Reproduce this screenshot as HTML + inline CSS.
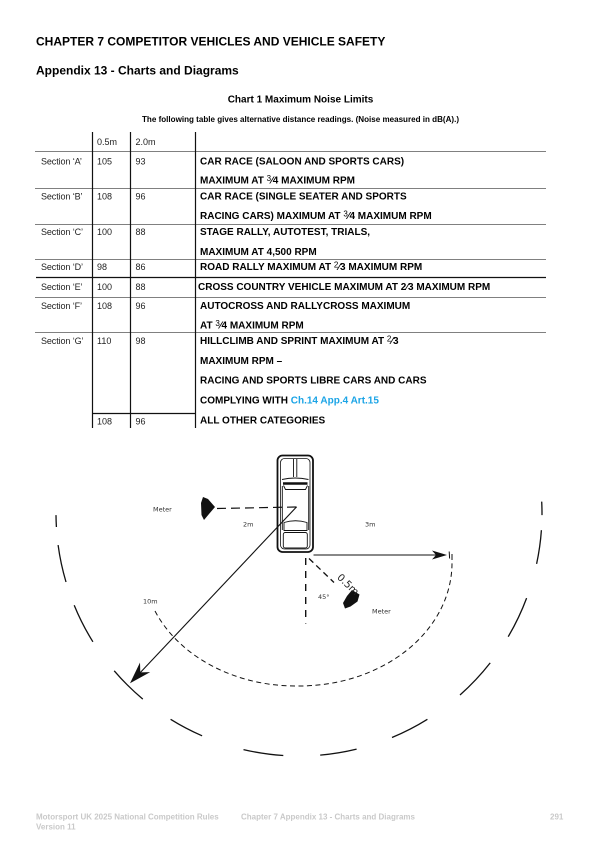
<!DOCTYPE html>
<html>
<head>
<meta charset="utf-8">
<style>
  html,body{margin:0;padding:0;background:#fff;}
  body{width:600px;height:849px;overflow:hidden;}
  svg{display:block;}
  .h{font-family:"Liberation Sans",Arial,sans-serif;font-weight:bold;fill:#000;}
  .b{font-family:"Liberation Sans",Arial,sans-serif;font-weight:bold;font-size:10px;fill:#000;}
  .r{font-family:"Liberation Sans",Arial,sans-serif;font-size:9px;fill:#222;}
  .f{font-family:"Liberation Sans",Arial,sans-serif;font-weight:bold;font-size:8px;fill:#c9c9c9;}
  .d{font-family:"DejaVu Sans","Liberation Sans",sans-serif;font-size:6.5px;fill:#333;}
  .fr{font-weight:normal;font-size:8px;}
</style>
</head>
<body>
<svg width="600" height="849" viewBox="0 0 600 849" xmlns="http://www.w3.org/2000/svg">
  <rect width="600" height="849" fill="#fff"/>

  <!-- Headings -->
  <text class="h" x="36" y="45.3" font-size="12">CHAPTER 7 COMPETITOR VEHICLES AND VEHICLE SAFETY</text>
  <text class="h" x="36" y="74.3" font-size="12">Appendix 13 - Charts and Diagrams</text>
  <text class="h" x="300.5" y="102.6" font-size="10" text-anchor="middle">Chart 1 Maximum Noise Limits</text>
  <text class="h" x="142" y="122" font-size="8" textLength="317" lengthAdjust="spacingAndGlyphs">The following table gives alternative distance readings. (Noise measured in dB(A).)</text>

  <!-- Table lines -->
  <g stroke="#808080" stroke-width="1">
    <line x1="35" y1="151.5" x2="546" y2="151.5"/>
    <line x1="35" y1="188.5" x2="546" y2="188.5"/>
    <line x1="35" y1="224.5" x2="546" y2="224.5"/>
    <line x1="35" y1="259.5" x2="546" y2="259.5"/>
    <line x1="35" y1="297.5" x2="546" y2="297.5"/>
    <line x1="35" y1="332.5" x2="546" y2="332.5"/>
  </g>
  <line x1="36" y1="277.5" x2="546" y2="277.5" stroke="#111" stroke-width="1.2"/>
  <g stroke="#111" stroke-width="1.2">
    <line x1="92.5" y1="132" x2="92.5" y2="428"/>
    <line x1="130.5" y1="132" x2="130.5" y2="428"/>
    <line x1="195.5" y1="132" x2="195.5" y2="428"/>
    <line x1="92.5" y1="413.5" x2="195.5" y2="413.5"/>
  </g>

  <!-- Header -->
  <text class="r" x="97" y="145">0.5m</text>
  <text class="r" x="135.5" y="145">2.0m</text>

  <!-- Section labels & values -->
  <text class="r" x="41" y="164.5" letter-spacing="-0.1">Section ‘A’</text>
  <text class="r" x="97" y="164.5">105</text><text class="r" x="135.5" y="164.5">93</text>

  <text class="r" x="41" y="199.5" letter-spacing="-0.1">Section ‘B’</text>
  <text class="r" x="97" y="199.5">108</text><text class="r" x="135.5" y="199.5">96</text>

  <text class="r" x="41" y="235" letter-spacing="-0.1">Section ‘C’</text>
  <text class="r" x="97" y="235">100</text><text class="r" x="135.5" y="235">88</text>

  <text class="r" x="41" y="270" letter-spacing="-0.1">Section ‘D’</text>
  <text class="r" x="97" y="270">98</text><text class="r" x="135.5" y="270">86</text>

  <text class="r" x="41" y="290" letter-spacing="-0.1">Section ‘E’</text>
  <text class="r" x="97" y="290">100</text><text class="r" x="135.5" y="290">88</text>

  <text class="r" x="41" y="309" letter-spacing="-0.1">Section ‘F’</text>
  <text class="r" x="97" y="309">108</text><text class="r" x="135.5" y="309">96</text>

  <text class="r" x="41" y="344" letter-spacing="-0.1">Section ‘G’</text>
  <text class="r" x="97" y="344">110</text><text class="r" x="135.5" y="344">98</text>

  <text class="r" x="97" y="424.5">108</text><text class="r" x="135.5" y="424.5">96</text>

  <!-- Descriptions -->
  <text class="b" x="200" y="164.5">CAR RACE (SALOON AND SPORTS CARS)</text>
  <text class="b" x="200" y="183.5">MAXIMUM AT <tspan class="fr" dy="-2.5">3</tspan><tspan dy="2.5">⁄4</tspan> MAXIMUM RPM</text>

  <text class="b" x="200" y="199.5">CAR RACE (SINGLE SEATER AND SPORTS</text>
  <text class="b" x="200" y="219">RACING CARS) MAXIMUM AT <tspan class="fr" dy="-2.5">3</tspan><tspan dy="2.5">⁄4</tspan> MAXIMUM RPM</text>

  <text class="b" x="200" y="235">STAGE RALLY, AUTOTEST, TRIALS,</text>
  <text class="b" x="200" y="255">MAXIMUM AT 4,500 RPM</text>

  <text class="b" x="200" y="270">ROAD RALLY MAXIMUM AT <tspan class="fr" dy="-2.5">2</tspan><tspan dy="2.5">⁄3</tspan> MAXIMUM RPM</text>

  <text class="b" x="198" y="290">CROSS COUNTRY VEHICLE MAXIMUM AT 2⁄3 MAXIMUM RPM</text>

  <text class="b" x="200" y="309">AUTOCROSS AND RALLYCROSS MAXIMUM</text>
  <text class="b" x="200" y="328.5">AT <tspan class="fr" dy="-2.5">3</tspan><tspan dy="2.5">⁄4</tspan> MAXIMUM RPM</text>

  <text class="b" x="200" y="344">HILLCLIMB AND SPRINT MAXIMUM AT <tspan class="fr" dy="-2.5">2</tspan><tspan dy="2.5">⁄3</tspan></text>
  <text class="b" x="200" y="364">MAXIMUM RPM –</text>
  <text class="b" x="200" y="383.5">RACING AND SPORTS LIBRE CARS AND CARS</text>
  <text class="b" x="200" y="403.5">COMPLYING WITH <tspan fill="#1ba4e6">Ch.14 App.4 Art.15</tspan></text>
  <text class="b" x="200" y="423.5">ALL OTHER CATEGORIES</text>

  <!-- ===== Diagram ===== -->
  <!-- Outer dashed circle (individual dashes) -->
  <g fill="none" stroke="#111" stroke-width="1.3">
    <path d="M56.0,515.1 A243,243 0 0 0 56.4,527.0"/>
    <path d="M58.1,545.1 A243,243 0 0 0 66.0,582.0"/>
    <path d="M74.2,605.2 A243,243 0 0 0 92.9,641.8"/>
    <path d="M114.2,670.8 A243,243 0 0 0 142.8,699.1"/>
    <path d="M170.6,719.3 A243,243 0 0 0 202.1,735.8"/>
    <path d="M243.5,749.6 A243,243 0 0 0 283.3,755.5"/>
    <path d="M320.2,755.1 A243,243 0 0 0 356.6,749.1"/>
    <path d="M392.0,737.5 A243,243 0 0 0 427.4,719.3"/>
    <path d="M460.0,695.0 A243,243 0 0 0 490.2,662.9"/>
    <path d="M508.2,636.7 A243,243 0 0 0 526.6,598.1"/>
    <path d="M536.6,563.9 A243,243 0 0 0 541.4,530.2"/>
    <path d="M542.0,515.1 A243,243 0 0 0 541.7,501.6"/>
  </g>

  <!-- Inner dashed arc -->
  <path d="M155,611 A153,123 0 0 0 299,686 A153,123 0 0 0 452,563" fill="none" stroke="#111" stroke-width="1" stroke-dasharray="5 3.5"/>

  <!-- Left meter & dashed line -->
  <polygon points="203,497 208,499 215,507 209,514 204,520 201.5,515 201,503" fill="#111"/>
  <line x1="217" y1="508.5" x2="296" y2="507" stroke="#111" stroke-width="1.2" stroke-dasharray="9 5"/>

  <!-- Long arrow to 10m -->
  <line x1="296.7" y1="506.7" x2="138" y2="675" stroke="#111" stroke-width="1.1"/>
  <polygon points="130,683.3 150.2,672.1 140.3,672.4 140,662.5" fill="#111"/>

  <!-- Right arrow 3m -->
  <line x1="313.5" y1="555" x2="436" y2="555" stroke="#111" stroke-width="1.1"/>
  <polygon points="447,555 432,550.5 436,555 432,559.5" fill="#111"/>
  <line x1="449.2" y1="551.5" x2="449.6" y2="558.5" stroke="#111" stroke-width="1"/>
  <line x1="452" y1="554" x2="452" y2="560" stroke="#111" stroke-width="1"/>

  <!-- Vertical dashed line -->
  <line x1="305.7" y1="558" x2="305.7" y2="623.5" stroke="#111" stroke-width="1.4" stroke-dasharray="7 6"/>
  <!-- Diagonal dashed line -->
  <line x1="309" y1="558.5" x2="334" y2="582.5" stroke="#111" stroke-width="1.3" stroke-dasharray="6 4"/>

  <!-- Right meter -->
  <polygon points="352,590 359.5,594.5 357.5,601.5 350.5,606.5 345,608.5 343,603 347,596" fill="#111"/>

  <!-- Car -->
  <g fill="none" stroke="#111">
    <rect x="277.5" y="455.5" width="35.5" height="96.5" rx="5" stroke-width="1.8"/>
    <rect x="280.5" y="458.5" width="29.5" height="90.5" rx="4" stroke-width="0.8"/>
    <line x1="293.5" y1="459" x2="293.5" y2="477" stroke-width="0.9"/>
    <line x1="296.8" y1="459" x2="296.8" y2="477" stroke-width="0.9"/>
    <path d="M282,479.5 Q295,476.5 308.5,479.5" stroke-width="0.9"/>
    <path d="M283,483.5 L307.5,483.5" stroke-width="2.4"/>
    <path d="M283.5,485.5 L285.5,489.5 L305.5,489.5 L307.5,485.5" stroke-width="0.9"/>
    <line x1="282.3" y1="486" x2="282.3" y2="530" stroke-width="0.9"/>
    <line x1="308.7" y1="486" x2="308.7" y2="530" stroke-width="0.9"/>
    <path d="M284,522.5 Q295.5,519 307,522.5 L307,530.5 L284,530.5 Z" stroke-width="0.9"/>
    <rect x="283.3" y="532.5" width="24" height="15.5" rx="2" stroke-width="0.9"/>
  </g>

  <!-- Diagram labels -->
  <text class="d" x="153" y="511.5">Meter</text>
  <text class="d" x="243" y="526.5">2m</text>
  <text class="d" x="365" y="526.5">3m</text>
  <text class="d" x="143" y="603.5">10m</text>
  <text class="d" x="318" y="599">45°</text>
  <text class="d" x="372" y="613.5">Meter</text>
  <text x="0" y="0" transform="translate(336.5,578) rotate(44)" font-family="'DejaVu Sans','Liberation Sans',sans-serif" font-size="10" fill="#222">0.5m</text>

  <!-- Footer -->
  <text class="f" x="36" y="819.5">Motorsport UK 2025 National Competition Rules</text>
  <text class="f" x="36" y="829.5">Version 11</text>
  <text class="f" x="241" y="819.5">Chapter 7 Appendix 13 - Charts and Diagrams</text>
  <text class="f" x="550" y="819.5">291</text>
</svg>
</body>
</html>
